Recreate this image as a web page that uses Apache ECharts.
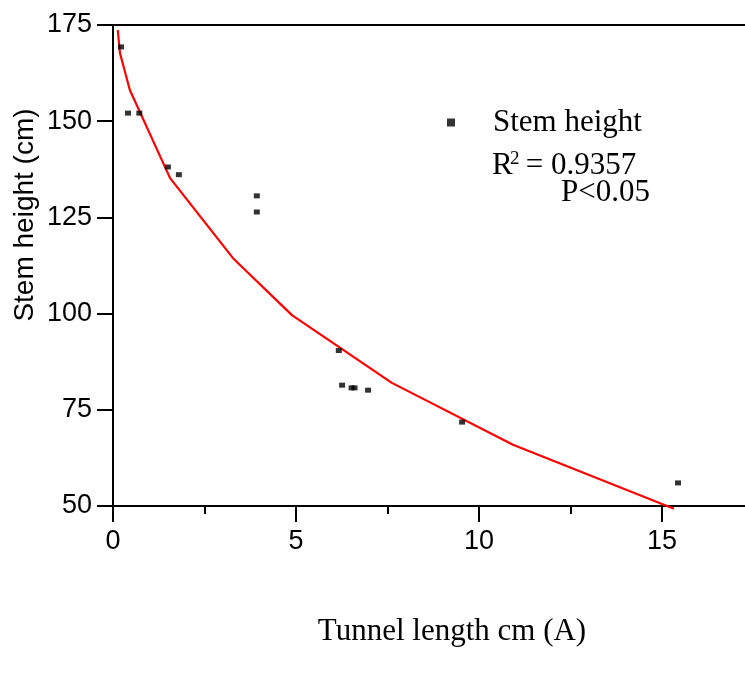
<!DOCTYPE html>
<html>
<head>
<meta charset="utf-8">
<script src="https://cdn.jsdelivr.net/npm/echarts@6/dist/echarts.min.js"></script>
<style>
  html, body { margin: 0; padding: 0; background: #fff; }
  #chart { width: 745px; height: 675px; }
</style>
</head>
<body>
<div id="chart"></div>
<script>
// Observed data (tunnel length cm, stem height cm)
const tunnelLength = [0.22, 0.41, 0.72, 1.50, 1.80, 3.93, 3.93, 6.17, 6.26, 6.52, 6.60, 6.97, 9.54, 15.44];
const stemHeight   = [169.3, 152.1, 152.1, 138.1, 136.1, 130.6, 126.4, 90.4, 81.4, 80.7, 80.7, 80.1, 71.8, 56.0];

// Fitted curve vertices
const fitLength = [0.13, 0.19, 0.46, 1.56, 3.28, 4.89, 7.62, 10.93, 15.33];
const fitHeight = [173.7, 167.7, 158.1, 135.2, 114.4, 99.6, 82.0, 65.9, 49.3];

// Axis ticks
const xMajorTicks = [0, 5, 10, 15];
const xMinorTicks = [2.5, 7.5, 12.5];
const yTicks = [50, 75, 100, 125, 150, 175];

const seriesName = 'Stem height';
const r2Text = '0.9357';
const pText = 'P<0.05';
const xAxisTitle = 'Tunnel length cm (A)';
const yAxisTitle = 'Stem height (cm)';

const X_MIN = 0, X_MAX = 17.27;
const Y_MIN = 50, Y_MAX = 175;

const scatterData = tunnelLength.map((x, i) => [x, stemHeight[i]]);
const fitData = fitLength.map((x, i) => [x, fitHeight[i]]);

const sans = 'Liberation Sans';
const serif = 'Liberation Serif';
const gridBox = { left: 113, top: 25, right: 0, bottom: 169 };

const chart = echarts.init(document.getElementById('chart'));
chart.setOption({
  animation: false,
  backgroundColor: '#ffffff',
  grid: [
    Object.assign({ containLabel: false }, gridBox),
    Object.assign({ containLabel: false }, gridBox)
  ],
  legend: {
    data: [seriesName],
    left: 442,
    top: 102,
    icon: 'rect',
    itemWidth: 8,
    itemHeight: 8,
    textStyle: { fontFamily: serif, fontSize: 31, color: '#000', padding: [0, 0, 0, 33] }
  },
  xAxis: [
    {
      gridIndex: 0,
      type: 'value',
      position: 'bottom',
      min: X_MIN, max: X_MAX,
      splitLine: { show: false },
      axisLine: { show: true, onZero: false, lineStyle: { color: '#000', width: 2 } },
      axisTick: { show: true, inside: false, length: 16, customValues: xMajorTicks, lineStyle: { color: '#000', width: 2 } },
      axisLabel: { show: true, customValues: xMajorTicks, margin: 22, fontFamily: sans, fontSize: 27, color: '#000' }
    },
    {
      gridIndex: 0,
      type: 'value',
      position: 'top',
      min: X_MIN, max: X_MAX,
      splitLine: { show: false },
      axisLine: { show: true, onZero: false, lineStyle: { color: '#000', width: 2 } },
      axisTick: { show: false },
      axisLabel: { show: false }
    },
    {
      gridIndex: 1,
      type: 'value',
      position: 'bottom',
      min: X_MIN, max: X_MAX,
      splitLine: { show: false },
      axisLine: { show: false, onZero: false },
      axisTick: { show: true, inside: false, length: 8, customValues: xMinorTicks, lineStyle: { color: '#000', width: 2 } },
      axisLabel: { show: false }
    }
  ],
  yAxis: [
    {
      gridIndex: 0,
      type: 'value',
      min: Y_MIN, max: Y_MAX,
      splitLine: { show: false },
      axisLine: { show: true, onZero: false, lineStyle: { color: '#000', width: 2 } },
      axisTick: { show: true, inside: false, length: 16, customValues: yTicks, lineStyle: { color: '#000', width: 2 } },
      axisLabel: { show: true, customValues: yTicks, margin: 21, fontFamily: sans, fontSize: 27, color: '#000' }
    },
    {
      gridIndex: 1,
      type: 'value',
      min: Y_MIN, max: Y_MAX,
      show: false
    }
  ],
  series: [
    {
      name: seriesName,
      type: 'scatter',
      xAxisIndex: 0, yAxisIndex: 0,
      data: scatterData,
      symbol: 'rect',
      symbolSize: [6, 5],
      itemStyle: { color: '#000' },
      z: 3
    },
    {
      name: 'fit',
      type: 'line',
      xAxisIndex: 0, yAxisIndex: 0,
      data: fitData,
      showSymbol: false,
      symbol: 'none',
      clip: false,
      lineStyle: { color: '#ff0000', width: 2.2 },
      z: 2
    }
  ],
  graphic: [
    {
      type: 'text',
      x: 492, y: 166,
      style: { text: 'R', fontFamily: serif, fontSize: 31, fill: '#000', textAlign: 'left', textVerticalAlign: 'middle' }
    },
    {
      type: 'text',
      x: 510, y: 159,
      style: { text: '2', fontFamily: serif, fontSize: 19, fill: '#000', textAlign: 'left', textVerticalAlign: 'middle' }
    },
    {
      type: 'text',
      x: 518, y: 166,
      style: { text: ' = ' + r2Text, fontFamily: serif, fontSize: 31, fill: '#000', textAlign: 'left', textVerticalAlign: 'middle' }
    },
    {
      type: 'text',
      x: 561, y: 193,
      style: { text: pText, fontFamily: serif, fontSize: 31, fill: '#000', textAlign: 'left', textVerticalAlign: 'middle' }
    },
    {
      type: 'text',
      x: 452, y: 632,
      style: { text: xAxisTitle, fontFamily: serif, fontSize: 31, fill: '#000', textAlign: 'center', textVerticalAlign: 'middle' }
    },
    {
      type: 'text',
      x: 25, y: 215,
      rotation: Math.PI / 2,
      style: { text: yAxisTitle, fontFamily: sans, fontSize: 28, fill: '#000', textAlign: 'center', textVerticalAlign: 'middle' }
    }
  ]
});
</script>
</body>
</html>
